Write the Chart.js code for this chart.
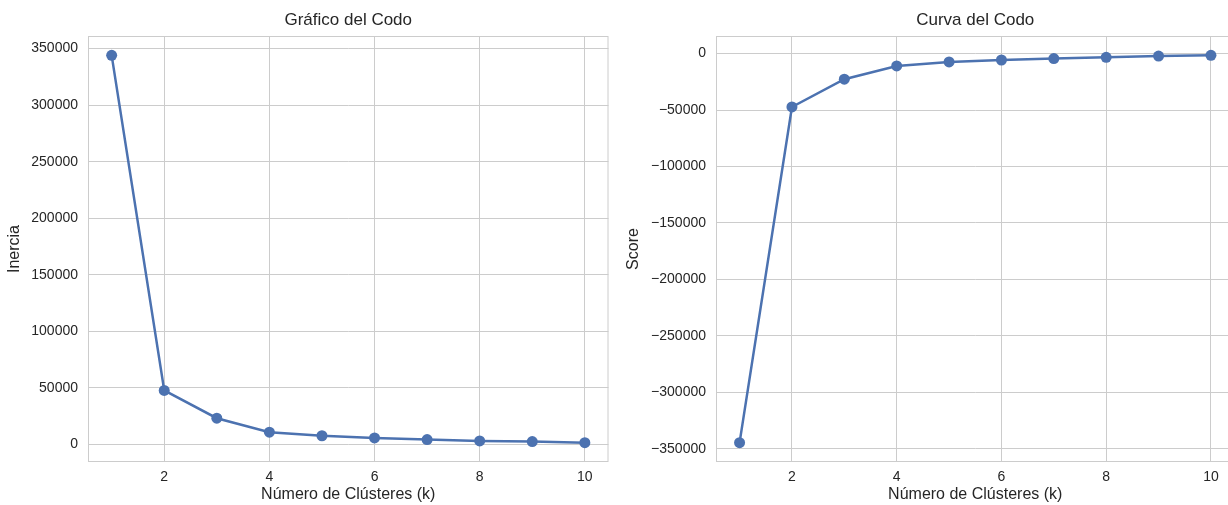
<!DOCTYPE html>
<html>
<head>
<meta charset="utf-8">
<script src="https://cdn.jsdelivr.net/npm/chart.js@4"></script>
<style>
    html, body { margin: 0; padding: 0; background: #fff; overflow: hidden; width: 1228px; height: 505px; }
    canvas { position: absolute; top: 0; }
    #codoChart { left: 0; }
    #curvaChart { left: 614px; }
</style>
</head>
<body>
<canvas id="codoChart" width="614" height="505"></canvas>
<canvas id="curvaChart" width="626" height="505"></canvas>
<script>
    // datos
    var clusters = [1, 2, 3, 4, 5, 6, 7, 8, 9, 10];
    var inercia = [344000, 47800, 23200, 10800, 7700, 5800, 4300, 3100, 2500, 1600];
    var score = [-344500, -47300, -22700, -11000, -7400, -5700, -4400, -3300, -2200, -1600];
    var xTicks = [2, 4, 6, 8, 10];
    var yTicksInercia = [0, 50000, 100000, 150000, 200000, 250000, 300000, 350000];
    var yTicksScore = [-350000, -300000, -250000, -200000, -150000, -100000, -50000, 0];

    var azul = '#4C72B0';
    var gris = '#cccccc';
    var texto = '#262626';
    var fuente = 'Liberation Sans, Arial, sans-serif';

    Chart.defaults.font.family = fuente;
    Chart.defaults.color = texto;

    // marco de 4 lados como en seaborn whitegrid
    var marco = {
        id: 'marco',
        beforeDatasetsDraw: function (chart) {
            var a = chart.chartArea, ctx = chart.ctx;
            ctx.save();
            ctx.strokeStyle = gris;
            ctx.lineWidth = 1;
            ctx.strokeRect(a.left + 0.5, a.top + 0.5, a.right - a.left - 1, a.bottom - a.top - 1);
            ctx.restore();
        }
    };

    function margen(vals) {
        var mn = Math.min.apply(null, vals), mx = Math.max.apply(null, vals);
        var p = (mx - mn) * 0.05;
        return { min: mn - p, max: mx + p };
    }

    function fmt(v) {
        return String(v).replace('-', '\u2212');
    }

    function crearGrafico(id, titulo, yLabel, valores, yTicks, yWidth, yTitlePad, padRight) {
        var ctx = document.getElementById(id).getContext('2d');
        var rango = margen(valores);
        var puntos = clusters.map(function (k, i) { return { x: k, y: valores[i] }; });
        return new Chart(ctx, {
            type: 'line',
            data: {
                datasets: [{
                    data: puntos,
                    borderColor: azul,
                    backgroundColor: azul,
                    borderWidth: 2.5,
                    pointRadius: 5.5,
                    pointHoverRadius: 5.5,
                    pointBorderWidth: 0,
                    pointBackgroundColor: azul,
                    tension: 0
                }]
            },
            options: {
                responsive: false,
                animation: false,
                layout: { padding: { left: 0, right: padRight, top: 0, bottom: 0 } },
                plugins: {
                    legend: { display: false },
                    tooltip: { enabled: false },
                    title: {
                        display: true,
                        text: titulo,
                        fullSize: false,
                        color: texto,
                        font: { size: 17, weight: 'normal' },
                        padding: { top: 10, bottom: 5.6 }
                    }
                },
                scales: {
                    x: {
                        type: 'linear',
                        min: 0.55,
                        max: 10.45,
                        afterBuildTicks: function (s) { s.ticks = xTicks.map(function (v) { return { value: v }; }); },
                        afterFit: function (s) { s.height = 43; },
                        grid: { color: gris, lineWidth: 1, drawTicks: false },
                        border: { display: false },
                        ticks: { padding: 6.5, font: { size: 14 }, color: texto, callback: fmt },
                        title: { display: true, text: 'Número de Clústeres (k)', font: { size: 16 }, color: texto, padding: { top: 0, bottom: 1 } }
                    },
                    y: {
                        min: rango.min,
                        max: rango.max,
                        afterBuildTicks: function (s) { s.ticks = yTicks.map(function (v) { return { value: v }; }); },
                        afterFit: function (s) { s.width = yWidth; },
                        grid: { color: gris, lineWidth: 1, drawTicks: false },
                        border: { display: false },
                        ticks: { padding: 10, font: { size: 14 }, color: texto, callback: fmt },
                        title: { display: true, text: yLabel, font: { size: 16 }, color: texto, padding: { top: yTitlePad, bottom: 0 } }
                    }
                }
            },
            plugins: [marco]
        });
    }

    crearGrafico('codoChart', 'Gráfico del Codo', 'Inercia', inercia, yTicksInercia, 88, 4.5, 4);
    crearGrafico('curvaChart', 'Curva del Codo', 'Score', score, yTicksScore, 102, 9.5, 2);
</script>
</body>
</html>
